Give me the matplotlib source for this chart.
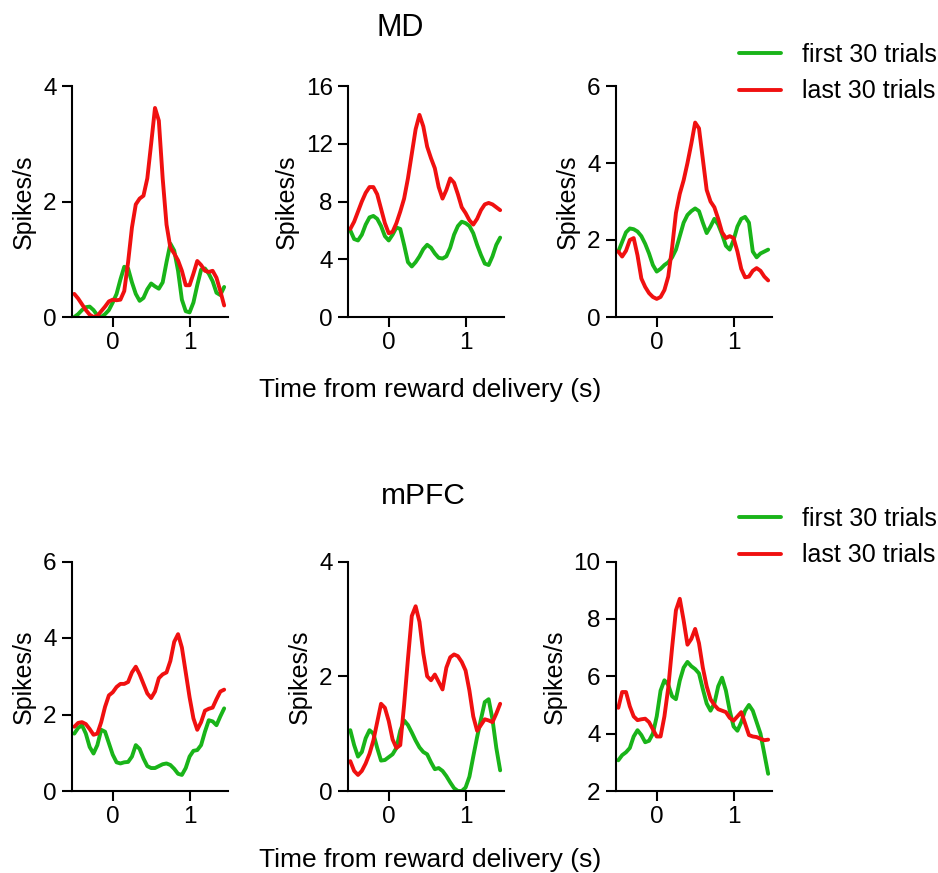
import numpy as np
import matplotlib
matplotlib.use("Agg")
import matplotlib.pyplot as plt

plt.rcParams['font.family'] = ['Liberation Sans', 'DejaVu Sans']

t = np.round(np.arange(-0.5, 1.451, 0.05), 2)

md1_first = [0.0, 0.05, 0.12, 0.17, 0.18, 0.12, 0.03, 0.0, 0.05, 0.12, 0.25, 0.40, 0.65, 0.87, 0.84, 0.60, 0.40, 0.28, 0.33, 0.48,
             0.58, 0.53, 0.49, 0.60, 0.95, 1.27, 1.15, 0.80, 0.30, 0.10, 0.08, 0.25, 0.55, 0.82, 0.84, 0.75, 0.62, 0.42, 0.38, 0.52]
md1_last = [0.40, 0.32, 0.22, 0.12, 0.04, 0.0, 0.02, 0.10, 0.18, 0.27, 0.30, 0.29, 0.30, 0.45, 0.95, 1.55, 1.95, 2.05, 2.10, 2.40,
            3.00, 3.62, 3.40, 2.40, 1.60, 1.20, 1.10, 0.98, 0.80, 0.55, 0.55, 0.75, 0.97, 0.90, 0.80, 0.78, 0.80, 0.68, 0.45, 0.20]

md2_first = [6.0, 5.4, 5.3, 5.7, 6.4, 6.9, 7.0, 6.8, 6.3, 5.6, 5.3, 5.7, 6.2, 6.1, 5.0, 3.8, 3.5, 3.8, 4.2, 4.7,
             5.0, 4.8, 4.4, 4.1, 4.05, 4.2, 4.8, 5.7, 6.3, 6.6, 6.5, 6.3, 5.8, 5.0, 4.3, 3.7, 3.6, 4.2, 5.0, 5.5]
md2_last = [6.1, 6.6, 7.3, 8.0, 8.6, 9.0, 9.0, 8.5, 7.5, 6.5, 5.8, 5.9, 6.5, 7.3, 8.2, 9.6, 11.3, 13.0, 14.0, 13.2,
            11.8, 11.0, 10.3, 9.0, 8.2, 8.8, 9.6, 9.3, 8.5, 7.6, 7.2, 6.7, 6.4, 6.8, 7.4, 7.8, 7.9, 7.8, 7.6, 7.4]

md3_first = [1.70, 1.95, 2.20, 2.30, 2.28, 2.22, 2.10, 1.90, 1.65, 1.35, 1.18, 1.25, 1.35, 1.42, 1.55, 1.75, 2.10, 2.45, 2.65, 2.75,
             2.82, 2.75, 2.45, 2.18, 2.35, 2.55, 2.40, 2.15, 1.85, 1.75, 2.00, 2.35, 2.55, 2.60, 2.45, 1.70, 1.55, 1.65, 1.70, 1.75]
md3_last = [1.70, 1.57, 1.72, 2.00, 2.05, 1.60, 1.00, 0.78, 0.62, 0.52, 0.47, 0.52, 0.70, 1.05, 1.80, 2.70, 3.20, 3.55, 4.00, 4.50,
            5.05, 4.90, 4.10, 3.30, 3.00, 2.85, 2.55, 2.20, 2.05, 2.10, 2.05, 1.70, 1.25, 1.03, 1.05, 1.20, 1.27, 1.20, 1.05, 0.95]

pfc1_first = [1.50, 1.65, 1.72, 1.50, 1.15, 0.98, 1.20, 1.60, 1.55, 1.25, 0.95, 0.75, 0.72, 0.75, 0.76, 0.90, 1.20, 1.10, 0.85, 0.65,
              0.60, 0.60, 0.65, 0.70, 0.72, 0.68, 0.58, 0.45, 0.42, 0.60, 0.90, 1.05, 1.07, 1.20, 1.55, 1.85, 1.82, 1.72, 1.95, 2.16]
pfc1_last = [1.68, 1.78, 1.80, 1.75, 1.62, 1.47, 1.50, 1.80, 2.20, 2.50, 2.58, 2.72, 2.80, 2.80, 2.85, 3.10, 3.25, 3.05, 2.80, 2.55,
             2.43, 2.60, 2.95, 3.05, 3.10, 3.40, 3.90, 4.10, 3.75, 3.10, 2.45, 1.90, 1.60, 1.80, 2.10, 2.15, 2.18, 2.40, 2.60, 2.65]

pfc2_first = [1.06, 0.80, 0.60, 0.68, 0.92, 1.06, 1.00, 0.75, 0.53, 0.54, 0.59, 0.64, 0.75, 1.05, 1.23, 1.15, 1.02, 0.88, 0.76, 0.68,
              0.64, 0.50, 0.38, 0.40, 0.35, 0.26, 0.15, 0.05, 0.0, 0.0, 0.06, 0.25, 0.60, 0.94, 1.25, 1.55, 1.60, 1.25, 0.75, 0.36]
pfc2_last = [0.52, 0.35, 0.28, 0.35, 0.48, 0.65, 0.88, 1.20, 1.52, 1.45, 1.22, 0.90, 0.75, 0.80, 1.50, 2.30, 3.05, 3.22, 2.95, 2.40,
             2.00, 1.93, 2.03, 1.90, 1.77, 2.15, 2.33, 2.38, 2.35, 2.25, 2.10, 1.75, 1.30, 1.05, 1.15, 1.25, 1.23, 1.20, 1.35, 1.52]

pfc3_first = [3.07, 3.25, 3.35, 3.50, 3.90, 4.12, 3.95, 3.70, 3.75, 4.00, 4.60, 5.50, 5.86, 5.70, 5.30, 5.20, 5.85, 6.30, 6.50, 6.35,
              6.25, 6.10, 5.55, 5.05, 4.80, 5.05, 5.65, 5.95, 5.50, 4.80, 4.25, 4.10, 4.40, 4.80, 5.00, 4.80, 4.40, 4.00, 3.30, 2.60]
pfc3_last = [4.90, 5.45, 5.45, 4.95, 4.60, 4.47, 4.50, 4.52, 4.40, 4.15, 3.90, 3.90, 4.60, 5.60, 7.00, 8.30, 8.70, 7.95, 7.10, 7.30,
             7.65, 7.15, 6.30, 5.65, 5.20, 5.00, 4.85, 4.80, 4.75, 4.55, 4.45, 4.60, 4.75, 4.35, 3.95, 3.90, 3.88, 3.82, 3.77, 3.79]

panels = [
    (md1_first, md1_last, (0, 4), [0, 2, 4]),
    (md2_first, md2_last, (0, 16), [0, 4, 8, 12, 16]),
    (md3_first, md3_last, (0, 6), [0, 2, 4, 6]),
    (pfc1_first, pfc1_last, (0, 6), [0, 2, 4, 6]),
    (pfc2_first, pfc2_last, (0, 4), [0, 2, 4]),
    (pfc3_first, pfc3_last, (2, 10), [2, 4, 6, 8, 10]),
]
x_ticks = [0, 1]
labels = ['first 30 trials', 'last 30 trials']
group_titles = ['MD', 'mPFC']
xlabel = 'Time from reward delivery (s)'

GREEN = '#19b419'
RED = '#f01010'
W, H = 938, 873
fig = plt.figure(figsize=(W / 100, H / 100), dpi=100)

lefts = [72, 348, 616]
rows = [(86, 317), (561.5, 791)]
width_px = 156

tick_fs = 17.5
lab_fs = 18
axes = []
for i, (g, r, ylim, yt) in enumerate(panels):
    row, col = divmod(i, 3)
    top, bot = rows[row]
    ax = fig.add_axes([lefts[col] / W, 1 - bot / H, width_px / W, (bot - top) / H])
    lg, = ax.plot(t, g, color=GREEN, lw=2.8, solid_joinstyle='round', solid_capstyle='round', label=labels[0])
    lr, = ax.plot(t, r, color=RED, lw=2.8, solid_joinstyle='round', solid_capstyle='round', label=labels[1])
    ax.set_xlim(-0.53, 1.5)
    ax.set_ylim(*ylim)
    ax.set_yticks(yt)
    ax.set_xticks(x_ticks)
    ax.spines['top'].set_visible(False)
    ax.spines['right'].set_visible(False)
    for s in ('left', 'bottom'):
        ax.spines[s].set_linewidth(1.5)
    ax.tick_params(direction='out', length=7, width=1.5, labelsize=tick_fs, pad=4)
    ax.set_ylabel('Spikes/s', fontsize=lab_fs, labelpad=5)
    axes.append((ax, lg, lr))

for row in range(2):
    ax, lg, lr = axes[row * 3]
    yc = [73, 537][row]
    fig.legend([lg, lr], labels, loc='center left',
               bbox_to_anchor=(739 / W, 1 - yc / H),
               frameon=False, fontsize=lab_fs, handlelength=1.68, handletextpad=0.85,
               labelspacing=0.5, borderpad=0, borderaxespad=0)

fig.text(400 / W, 1 - 36 / H, group_titles[0], fontsize=22, ha='center', va='baseline')
fig.text(423 / W, 1 - 504 / H, group_titles[1], fontsize=21.5, ha='center', va='baseline')
fig.text(430 / W, 1 - 397 / H, xlabel, fontsize=19, ha='center', va='baseline')
fig.text(430 / W, 1 - 867 / H, xlabel, fontsize=19, ha='center', va='baseline')

fig.savefig('out.png', dpi=100)
